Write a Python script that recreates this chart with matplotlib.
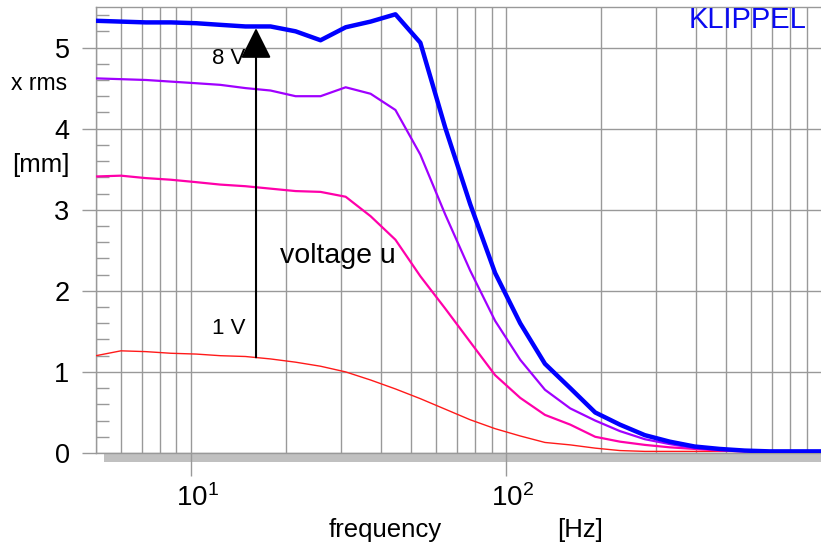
import matplotlib
matplotlib.use("Agg")
import matplotlib.pyplot as plt
from matplotlib.patches import Rectangle
from matplotlib.ticker import FixedLocator, MultipleLocator, NullFormatter
import matplotlib.transforms as mtransforms

plt.rcParams['font.family'] = ['Liberation Sans', 'DejaVu Sans']

# displacement x rms [mm] vs frequency [Hz], for rising voltage u (1 V ... 8 V)
freq = [5, 6, 7.2, 8.64, 10.4, 12.4, 14.9, 17.9, 21.5, 25.8, 31.0, 37.2, 44.6, 53.5,
        64.2, 77.0, 92.4, 111, 133, 160, 192, 230, 276, 331, 397, 477, 572, 687, 824, 989]

x_8v = [5.33, 5.32, 5.31, 5.31, 5.30, 5.28, 5.26, 5.26, 5.20, 5.09, 5.25, 5.32, 5.41, 5.06,
        4.01, 3.07, 2.22, 1.60, 1.10, 0.80, 0.50, 0.35, 0.22, 0.14, 0.08, 0.05, 0.03, 0.02, 0.02, 0.02]
x_4v = [4.62, 4.61, 4.60, 4.58, 4.56, 4.54, 4.50, 4.47, 4.40, 4.40, 4.51, 4.43, 4.23, 3.68,
        2.94, 2.25, 1.63, 1.15, 0.78, 0.55, 0.40, 0.27, 0.17, 0.11, 0.06, 0.04, 0.03, 0.02, 0.02, 0.02]
x_2v = [3.41, 3.42, 3.39, 3.37, 3.34, 3.31, 3.29, 3.26, 3.23, 3.22, 3.16, 2.92, 2.63, 2.18,
        1.78, 1.37, 0.96, 0.68, 0.47, 0.35, 0.20, 0.14, 0.10, 0.07, 0.05, 0.03, 0.02, 0.02, 0.02, 0.02]
x_1v = [1.20, 1.26, 1.25, 1.23, 1.22, 1.20, 1.19, 1.16, 1.12, 1.07, 1.00, 0.90, 0.79, 0.67,
        0.54, 0.41, 0.30, 0.21, 0.13, 0.10, 0.06, 0.03, 0.02, 0.02, 0.02, 0.02, 0.02, 0.02, 0.02, 0.02]

arrow_f = 16.1
arrow_from = 1.18
arrow_to = 5.24

W, H = 821, 551
fig = plt.figure(figsize=(W / 100, H / 100), dpi=100)
ax = fig.add_axes([96 / W, (H - 453) / H, (W - 96) / W, (453 - 7) / H])

grid_c = '#999999'

ax.plot(freq, x_1v, color='#ff1a1a', lw=1.0, zorder=5)
ax.plot(freq, x_2v, color='#ff00aa', lw=1.6, zorder=5)
ax.plot(freq, x_4v, color='#a000ff', lw=1.6, zorder=5)
ax.plot(freq, x_8v, color='#0000ff', lw=3.2, zorder=6)

ax.set_xscale('log')
ax.set_xlim(5, 1000)
ax.set_ylim(0, 5.5)

# x grid on every 1..9 multiple, ticks only at the decades
minor_x = [m * 10 ** e for e in range(0, 3) for m in range(2, 10) if 5 <= m * 10 ** e <= 1000]
ax.xaxis.set_major_locator(FixedLocator([10, 100]))
ax.xaxis.set_minor_locator(FixedLocator(minor_x))
ax.xaxis.set_minor_formatter(NullFormatter())
ax.set_xticklabels([r'$\mathregular{10^{1}}$', r'$\mathregular{10^{2}}$'], fontsize=20)
ax.tick_params(axis='x', which='major', direction='out', length=16.5, width=1,
               color=grid_c, pad=6)
ax.tick_params(axis='x', which='minor', length=0)
ax.grid(axis='x', which='both', color=grid_c, lw=1.0, zorder=0)
shift = mtransforms.ScaledTranslation(7 / 100, 0, fig.dpi_scale_trans)
for lab in ax.get_xticklabels():
    lab.set_transform(lab.get_transform() + shift)

ax.yaxis.set_major_locator(MultipleLocator(1))
ax.yaxis.set_minor_locator(MultipleLocator(0.2))
ax.tick_params(axis='y', which='major', direction='out', length=10, width=1,
               color=grid_c, pad=9, labelsize=19.5)
ax.tick_params(axis='y', which='minor', direction='in', length=9.5, width=1,
               color=grid_c)
ax.grid(axis='y', which='major', color=grid_c, lw=1.0, zorder=0)

for side in ['left', 'top', 'bottom']:
    ax.spines[side].set_color(grid_c)
    ax.spines[side].set_linewidth(1.0)
ax.spines['right'].set_visible(False)

# grey bar under the frequency axis
trans = mtransforms.blended_transform_factory(ax.transAxes, ax.transData)
ax.add_patch(Rectangle((8 / 725, -0.11), 1.0, 0.11, transform=trans,
                       facecolor='#c0c0c0', edgecolor='none', clip_on=False, zorder=1))

# voltage arrow
ax.annotate('', xy=(arrow_f, arrow_to), xytext=(arrow_f, arrow_from),
            arrowprops=dict(arrowstyle='-|>,head_length=1.0,head_width=0.5',
                            mutation_scale=19, color='black', lw=1.5,
                            shrinkA=0, shrinkB=0), zorder=7)

def px(x, y, s, **kw):
    fig.text(x / W, 1 - y / H, s, **kw)

px(229, 59, '8 V', fontsize=16, ha='center', va='center')
px(229, 328, '1 V', fontsize=16, ha='center', va='center')
px(338, 256, 'voltage u', fontsize=20.5, ha='center', va='center')
px(39, 83, 'x rms', fontsize=16.5, ha='center', va='center')
px(41, 165, '[mm]', fontsize=18.5, ha='center', va='center')
px(385, 530, 'frequency', fontsize=18.5, ha='center', va='center')
px(580, 530, '[Hz]', fontsize=18.5, ha='center', va='center')
px(806, 20, 'KLIPPEL', fontsize=21, ha='right', va='center', color='#0a0af0')

fig.savefig('out.png', dpi=100)
